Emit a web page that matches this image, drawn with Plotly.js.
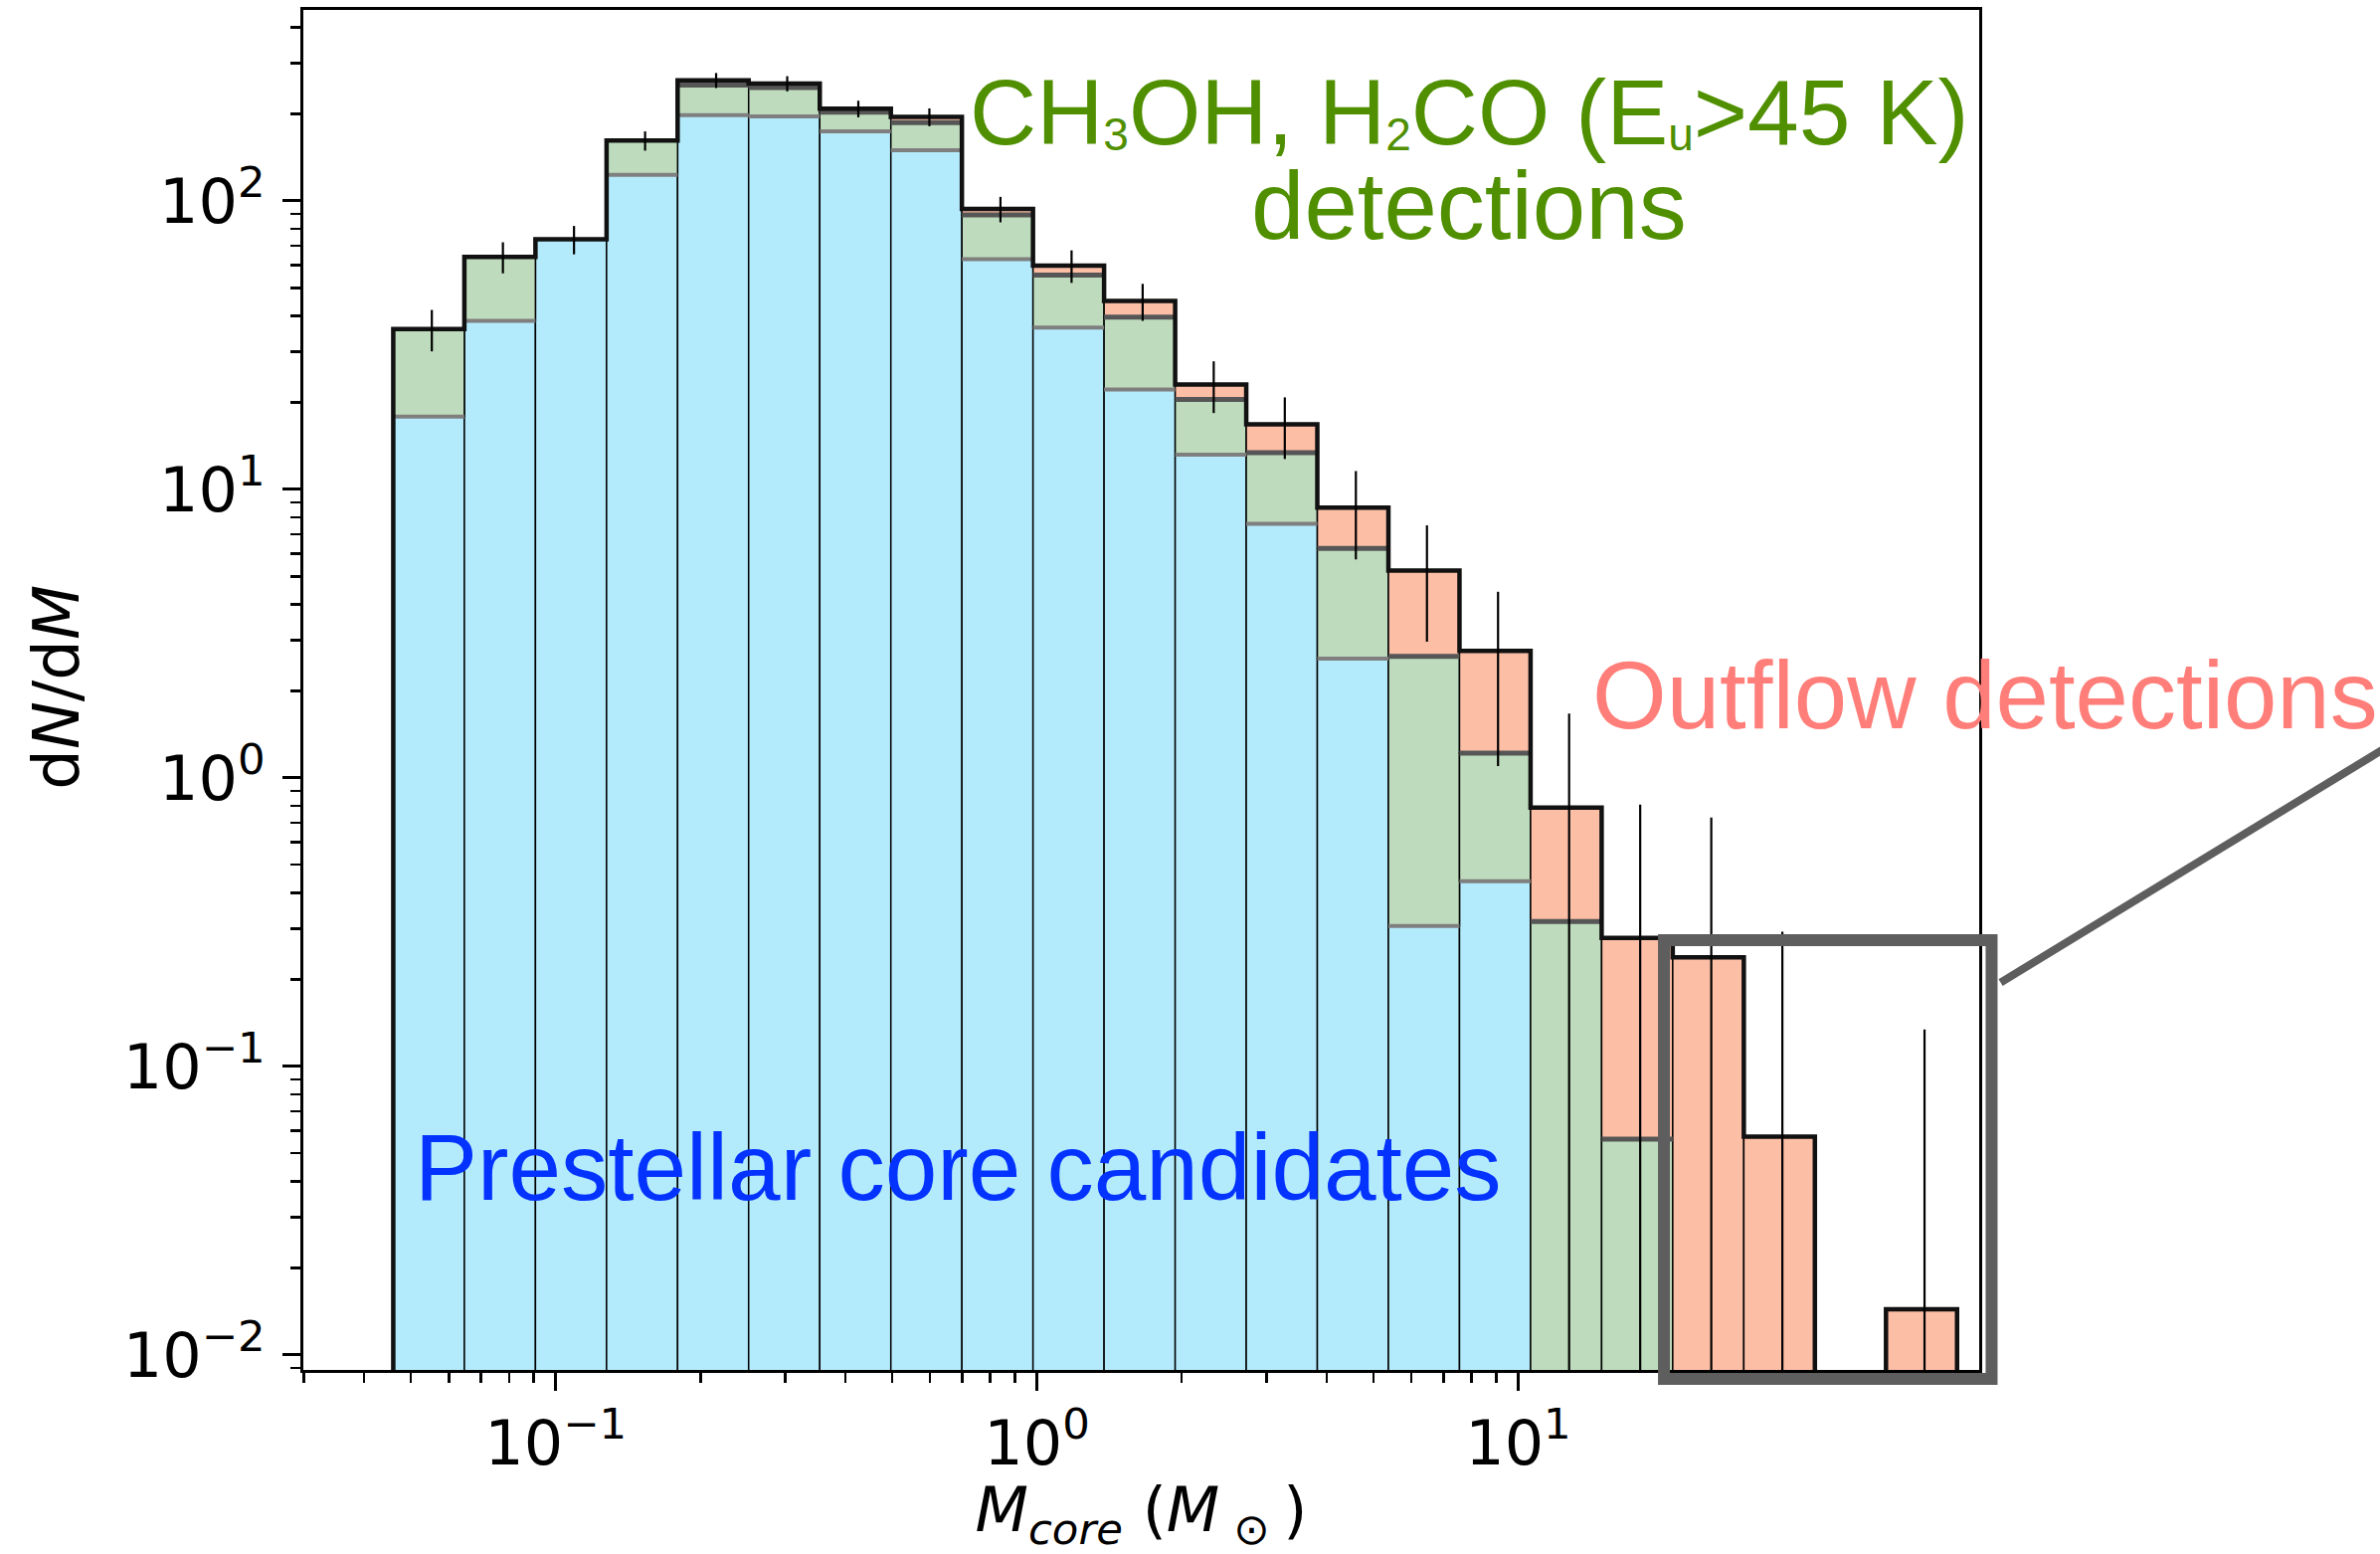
<!DOCTYPE html>
<html>
<head>
<meta charset="utf-8">
<script src="https://cdn.plot.ly/plotly-3.0.1.min.js"></script>
<style>html,body{margin:0;padding:0;background:#fff;}</style>
</head>
<body>
<div id="chart" style="width:2393px;height:1562px;"></div>
<script>
// ---------- data ----------
// histogram bin edges, core mass (solar masses)
const massBinEdges = [0.04598, 0.06461, 0.09078, 0.12757, 0.17923, 0.25177, 0.35384, 0.49717,
  0.6985, 0.98152, 1.3791, 1.9379, 2.7227, 3.8255, 5.3753, 7.5527, 10.612, 14.911,
  20.95, 29.44, 41.36, 58.12, 81.66];
// dN/dM of prestellar core candidates (bottom, blue)
const prestellarDNdM = [17.9, 38.4, 73.6, 123.2, 198.2, 196.4, 174.2, 150.0, 62.8, 36.4, 22.2,
  13.2, 7.6, 2.59, 0.307, 0.439, 0, 0, 0, 0, 0, 0];
// dN/dM of CH3OH/H2CO (Eu>45 K) detections (middle, green)
const comDetectionDNdM = [18.1, 25.6, 0, 38.6, 53.8, 50.6, 28.8, 37.0, 26.7, 18.9, 17.4,
  7.3, 5.8, 3.66, 2.33, 0.78, 0.318, 0.056, 0, 0, 0, 0];
// dN/dM of outflow detections (top, salmon)
const outflowDetectionDNdM = [0, 0, 0, 0, 9.9, 8.2, 5.7, 8.4, 4.3, 4.4, 5.4,
  2.6, 3.4, 2.4, 2.6, 1.54, 0.472, 0.223, 0.239, 0.0571, 0, 0.0144];
// error on the total dN/dM
const totalError = [5.9, 7.9, 8.3, 12.4, 15.7, 15.5, 13.8, 13.9, 9.5, 7.7, 6.6,
  4.7, 4.05, 2.93, 2.27, 1.66, 0.88, 0.53, 0.49, 0.236, 0, 0.12];

// axis ticks
const xTickVals = [0.1, 1, 10];
const xTickText = ['10<sup>−1</sup>', '10<sup>0</sup>', '10<sup>1</sup>'];
const xMinorVals = [0.03, 0.04, 0.05, 0.06, 0.07, 0.08, 0.09, 0.2, 0.3, 0.4, 0.5, 0.6, 0.7, 0.8, 0.9,
  2, 3, 4, 5, 6, 7, 8, 9, 20, 30, 40, 50, 60, 70, 80, 90];
const yTickVals = [0.01, 0.1, 1, 10, 100];
const yTickText = ['10<sup>−2</sup>', '10<sup>−1</sup>', '10<sup>0</sup>', '10<sup>1</sup>', '10<sup>2</sup>'];
const yMinorVals = [0.009, 0.02, 0.03, 0.04, 0.05, 0.06, 0.07, 0.08, 0.09, 0.2, 0.3, 0.4, 0.5, 0.6, 0.7, 0.8, 0.9,
  2, 3, 4, 5, 6, 7, 8, 9, 20, 30, 40, 50, 60, 70, 80, 90, 200, 300, 400];

// ---------- derived ----------
const FLOOR = 1e-4;   // below the visible y-range (log axis)
const nBins = prestellarDNdM.length;
const lefts = massBinEdges.slice(0, nBins);
const widths = lefts.map((e, i) => massBinEdges[i + 1] - e);
const greenBase = prestellarDNdM.slice();
const pinkBase = prestellarDNdM.map((v, i) => v + comDetectionDNdM[i]);
const totals = pinkBase.map((v, i) => v + outflowDetectionDNdM[i]);

function barTrace(vals, bases, color, name) {
  return {
    type: 'bar', name: name, x: lefts, y: vals, base: bases, width: widths, offset: 0,
    marker: {color: color, line: {color: '#000', width: 1.5}},
    hoverinfo: 'skip'
  };
}

// horizontal boundary segments
function hSegments(levels, cond) {
  const xs = [], ys = [];
  for (let i = 0; i < nBins; i++) {
    if (!cond(i)) continue;
    xs.push(massBinEdges[i], massBinEdges[i + 1], null);
    ys.push(levels[i], levels[i], null);
  }
  return {xs, ys};
}
const blueTop = hSegments(greenBase, i => prestellarDNdM[i] > 0 && (comDetectionDNdM[i] + outflowDetectionDNdM[i]) > 0);
const greenTop = hSegments(pinkBase, i => comDetectionDNdM[i] > 0 && outflowDetectionDNdM[i] > 0);

// step outline of the total
const stepX = [massBinEdges[0]], stepY = [FLOOR];
for (let i = 0; i < nBins; i++) {
  const t = totals[i] > 0 ? totals[i] : FLOOR;
  stepX.push(massBinEdges[i], massBinEdges[i + 1]);
  stepY.push(t, t);
}
stepX.push(massBinEdges[nBins]); stepY.push(FLOOR);

// error bars (vertical segments at linear bin centres)
const errX = [], errY = [];
for (let i = 0; i < nBins; i++) {
  if (!(totalError[i] > 0) || !(totals[i] > 0)) continue;
  const c = 0.5 * (massBinEdges[i] + massBinEdges[i + 1]);
  const lo = totals[i] - totalError[i];
  errX.push(c, c, null);
  errY.push(lo > 0 ? lo : FLOOR, totals[i] + totalError[i], null);
}

const traces = [
  barTrace(prestellarDNdM, new Array(nBins).fill(0), '#b3ebfc', 'Prestellar core candidates'),
  barTrace(comDetectionDNdM, greenBase, '#bedcbd', 'CH3OH, H2CO detections'),
  barTrace(outflowDetectionDNdM, pinkBase, '#fdbea6', 'Outflow detections'),
  {type: 'scatter', mode: 'lines', x: blueTop.xs, y: blueTop.ys, line: {color: '#7f7f7f', width: 4}, hoverinfo: 'skip', connectgaps: false},
  {type: 'scatter', mode: 'lines', x: greenTop.xs, y: greenTop.ys, line: {color: '#565656', width: 5}, hoverinfo: 'skip', connectgaps: false},
  {type: 'scatter', mode: 'lines', x: stepX, y: stepY, line: {color: '#111', width: 4.5}, hoverinfo: 'skip'},
  {type: 'scatter', mode: 'lines', x: errX, y: errY, line: {color: '#000', width: 2.2}, hoverinfo: 'skip', connectgaps: false}
];

const tickFont = {family: 'DejaVu Sans', size: 62, color: '#000'};
const SUB = t => '<span style="font-size:46px;baseline-shift:-6px">' + t + '</span>';
const layout = {
  width: 2393, height: 1562,
  margin: {l: 305, r: 403, t: 10, b: 185, pad: 0},
  paper_bgcolor: '#fff', plot_bgcolor: '#fff',
  showlegend: false,
  barmode: 'overlay',
  font: {family: 'DejaVu Sans', color: '#000'},
  xaxis: {
    type: 'log', range: [-1.5243, 1.958], autorange: false,
    showline: true, linecolor: '#000', linewidth: 3, mirror: true,
    showgrid: false, zeroline: false,
    ticks: 'outside', ticklen: 18, tickwidth: 3, tickcolor: '#000',
    tickmode: 'array', tickvals: xTickVals, ticktext: xTickText, tickfont: tickFont,
    minor: {tickmode: 'array', tickvals: xMinorVals, ticks: 'outside', ticklen: 10, tickwidth: 2.5, tickcolor: '#000', showgrid: false},
    title: {text: '<i>M</i><sub><i>core</i></sub> (<i>M</i><sub> ⊙ </sub>)', font: {family: 'DejaVu Sans', size: 62, color: '#000'}, standoff: 25},
    automargin: false
  },
  yaxis: {
    type: 'log', range: [-2.052, 2.662], autorange: false,
    showline: true, linecolor: '#000', linewidth: 3, mirror: true,
    showgrid: false, zeroline: false,
    ticks: 'outside', ticklen: 18, tickwidth: 3, tickcolor: '#000', ticklabelstandoff: 5,
    tickmode: 'array', tickvals: yTickVals, ticktext: yTickText, tickfont: tickFont,
    minor: {tickmode: 'array', tickvals: yMinorVals, ticks: 'outside', ticklen: 10, tickwidth: 2.5, tickcolor: '#000', showgrid: false},
    automargin: false
  },
  shapes: [
    {type: 'rect', xref: 'paper', yref: 'paper', x0: 0.8119, x1: 1.0074, y0: -0.0066, y1: 0.3160,
     line: {color: '#5e5e5e', width: 12}, fillcolor: 'rgba(0,0,0,0)', layer: 'above'},
    {type: 'line', xref: 'paper', yref: 'paper', x0: 1.0128, y0: 0.2849, x1: 1.2420, y1: 0.4570,
     line: {color: '#5e5e5e', width: 8}, layer: 'above'}
  ],
  annotations: [
    {xref: 'paper', yref: 'paper', x: -0.1472, y: 0.502, xanchor: 'center', yanchor: 'middle', showarrow: false,
     textangle: -90, text: 'd<i>N</i>/d<i>M</i>',
     font: {family: 'DejaVu Sans', size: 64, color: '#000'}},
    {xref: 'paper', yref: 'paper', x: 0.6955, y: 0.9250, xanchor: 'center', yanchor: 'middle', showarrow: false,
     text: 'CH' + SUB('3') + 'OH, H' + SUB('2') + 'CO (E' + SUB('u') + '&gt;45 K)',
     font: {family: 'Liberation Sans', size: 93, color: '#4f8f00'}},
    {xref: 'paper', yref: 'paper', x: 0.6955, y: 0.8563, xanchor: 'center', yanchor: 'middle', showarrow: false,
     text: 'detections', font: {family: 'Liberation Sans', size: 96, color: '#4f8f00'}},
    {xref: 'paper', yref: 'paper', x: 0.768, y: 0.4960, xanchor: 'left', yanchor: 'middle', showarrow: false,
     text: 'Outflow detections', font: {family: 'Liberation Sans', size: 96, color: '#ff7e79'}},
    {xref: 'paper', yref: 'paper', x: 0.0653, y: 0.1495, xanchor: 'left', yanchor: 'middle', showarrow: false,
     text: 'Prestellar core candidates', font: {family: 'Liberation Sans', size: 94.5, color: '#0433ff'}}
  ]
};

Plotly.newPlot('chart', traces, layout, {staticPlot: true, displayModeBar: false});
</script>
</body>
</html>
